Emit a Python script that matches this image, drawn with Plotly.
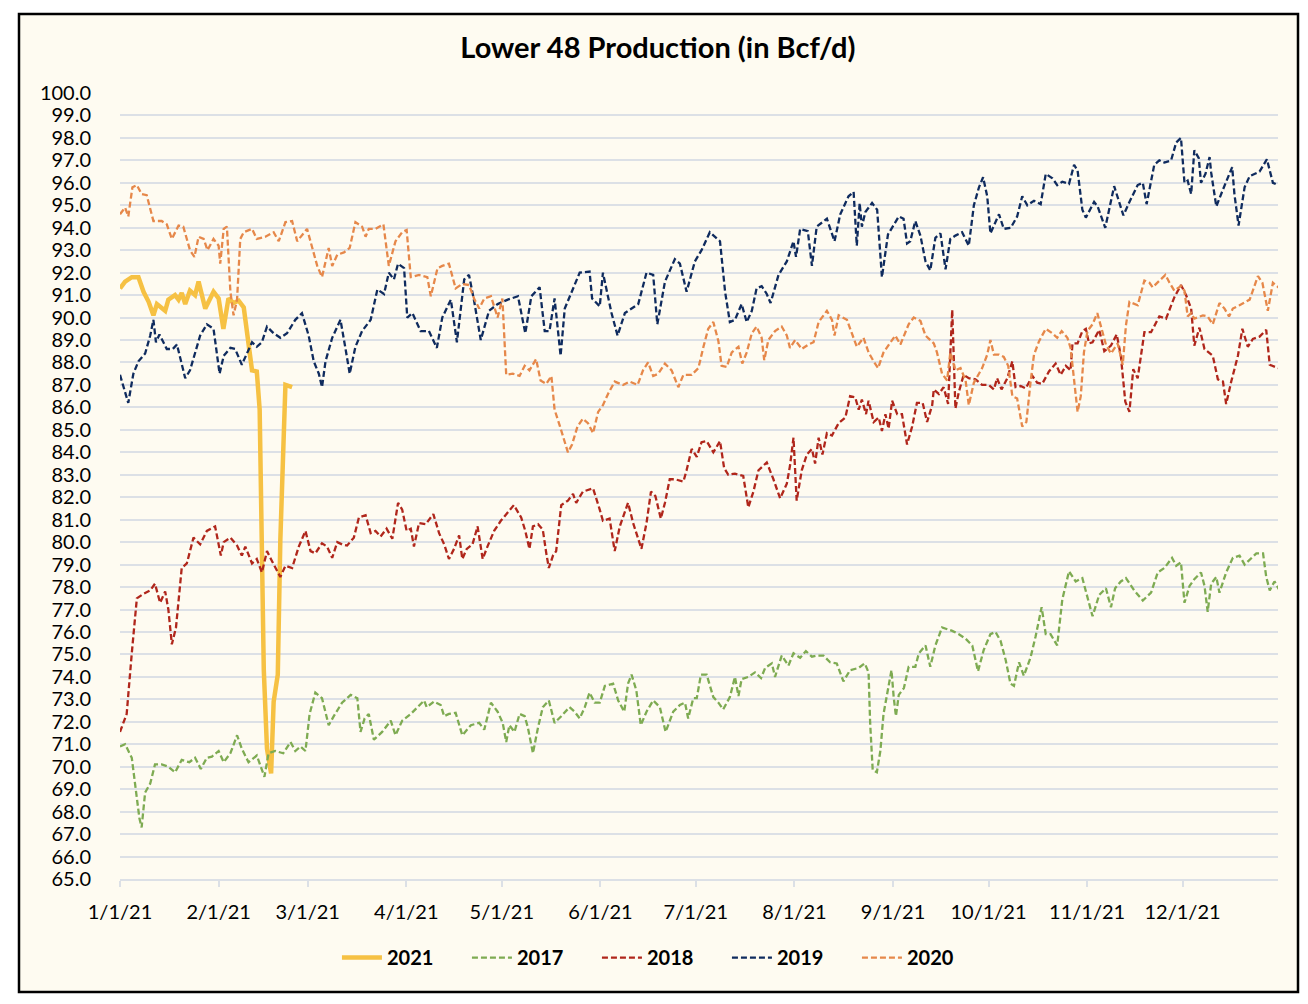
import pandas as pd
import plotly.graph_objects as go

# day offsets from 1/1/21 and production values (Bcf/d)
days_2021 = [0, 1.6, 3.7, 5.8, 7.4, 9, 10.5, 11.6, 14.2, 15.2, 17.3, 18.4, 19.4, 20.5, 22, 23.6, 24.7, 26.8, 29.4, 31,
             32.5, 34.1, 35.7, 37.3, 38.9, 40.4, 41.5, 43, 43.9, 45.2, 46.2, 47.5, 48.3, 49.6, 50.4, 51.3, 52, 54.1]
prod_2021 = [91.3, 91.6, 91.8, 91.8, 91.15, 90.7, 90.1, 90.6, 90.3, 90.8, 91.0, 90.8, 91.1, 90.6, 91.2, 91.0, 91.6, 90.4,
             91.15, 90.85, 89.5, 90.85, 90.65, 90.75, 90.45, 89.0, 87.65, 87.6, 85.9, 74.3, 70.8, 69.7, 72.9, 74.1, 80.1,
             84.0, 87.0, 86.9]

days_2017 = [0, 1.6, 3.7, 5, 6.1, 6.8, 7.9, 9.5, 11, 13.1, 15.2, 17.3, 19.4, 21.8, 23.6, 25.4, 27.3, 28.9, 31, 32.6,
             34.7, 36.8, 38.3, 40.4, 43, 45.4, 46.7, 48.8, 51.3, 53.6, 55.1, 56.7,
             58.3, 59.6, 61.4, 63.5, 65.6, 67.2, 69.8, 72.5, 74.6, 75.6, 76.9, 78.2, 79.8, 82.4, 85.1, 86.6, 88.7, 91.4,
             94, 95.6, 96.4, 98.7, 100.8, 101.9, 103.4, 105.5, 107.6, 110.3, 112.9, 114.5, 116.6, 118.7, 120.3,
             121.4, 122.4, 124, 125.6, 127.2, 128.2, 129.8, 131.4, 132.9, 134.8, 136.6, 138.7, 141.3, 142.9, 144.5,
             146.1, 147.6, 149.2, 150.8, 152.4, 155, 156.6, 158.5, 159.7, 160.8, 162.3, 163.7, 165.5, 167.6, 169.7,
             171.5, 173.9, 176, 177.6, 178.6, 180.2, 181.3, 182.6,
             184.4, 186.5, 188.1, 189.6, 191.7, 193.3, 194.4, 195.4, 197.5, 199.6, 201.5, 202.8, 204.9, 205.9, 208,
             210.1, 211.7, 213.8, 215.6, 217.5, 219, 221.1, 223.2, 225.3, 227.4, 229.5, 232.2, 234.1, 235.3, 235.8,
             236.6, 237.9, 239, 240, 241.1, 242.5, 243.2, 243.9, 244.8, 246.4,
             247.9, 250, 251.1, 253.2, 254.7, 256.3, 258.4, 261.6, 263.7, 265.8, 267.9, 269.7, 271.5, 273.6, 275.2,
             276.8, 278.4, 279.9, 281, 282.6, 284.1, 286.2, 287.8, 288.9, 289.7, 291, 292.5, 294.6, 296.2, 298.3,
             300.4, 302.5, 304.1,
             305.7, 307.8, 309.9, 311.5, 312.8, 314.6, 316.2, 318.8, 321.5, 324.1, 326.2, 328.3, 330.7, 332, 333.5,
             334.6, 336.2, 337.7, 339.8, 340.9, 341.9, 343, 344.6, 345.6, 347.7, 349.8, 351.9, 353.5, 355.1, 357.2,
             359.3, 360.3, 361.4, 362.9, 364.5]
prod_2017 = [70.9, 71.0, 70.4, 69.05, 67.7, 67.3, 68.85, 69.25, 70.1, 70.1, 70.0, 69.75, 70.3, 70.2, 70.4, 69.9, 70.4,
             70.45, 70.7, 70.2, 70.6, 71.4, 70.8, 70.2, 70.5, 69.55, 70.6, 70.7, 70.6, 71.1, 70.7, 70.9,
             70.7, 72.35, 73.3, 73.05, 71.85, 72.25, 72.85, 73.2, 73.05, 71.55, 72.15, 72.35, 71.2, 71.55, 72.05, 71.4,
             72.05, 72.35, 72.75, 72.95, 72.65, 72.9, 72.75, 72.25, 72.35, 72.4, 71.4, 71.85, 71.95, 71.65, 72.85,
             72.45, 71.95,
             71.1, 71.85, 71.55, 72.35, 72.25, 71.75, 70.6, 71.75, 72.65, 72.95, 71.95, 72.25, 72.65, 72.45, 72.15,
             72.65, 73.3, 72.85, 72.85, 73.6, 73.7, 72.95, 72.45, 73.7, 74.1, 73.4, 71.85, 72.45, 72.95, 72.65, 71.55,
             72.45, 72.75, 72.85, 72.15, 73.05, 73.05, 74.1,
             74.1, 73.1, 72.85, 72.55, 73.1, 74.0, 73.15, 73.9, 74.0, 74.2, 73.95, 74.4, 74.6, 74.0, 74.95, 74.5,
             75.05, 74.85, 75.15, 74.9, 74.95, 74.95, 74.65, 74.6, 73.8, 74.3, 74.4, 74.6, 74.2, 71.95, 69.85, 69.75,
             70.7, 72.35, 73.2, 74.3, 73.1, 72.25, 73.2, 73.5,
             74.45, 74.45, 75.05, 75.4, 74.45, 75.4, 76.2, 76.05, 75.9, 75.7, 75.4, 74.25, 75.2, 75.9, 76.0, 75.6,
             74.75, 73.7, 73.6, 74.65, 74.05, 74.85, 75.8, 76.5, 77.1, 75.9, 75.9, 75.4, 77.45, 78.7, 78.25, 78.4,
             77.55,
             76.7, 77.65, 77.95, 77.1, 77.95, 78.25, 78.4, 77.85, 77.4, 77.75, 78.65, 78.85, 79.3, 78.95, 79.1, 77.3,
             78.05, 78.35, 78.65, 78.05, 76.9, 78.15, 78.45, 77.75, 78.65, 79.3, 79.4, 79.0, 79.2, 79.5, 79.5, 78.45,
             77.85, 78.25, 77.85]

days_2018 = [0, 2.1, 3.7, 5.3, 7.4, 9.5, 11, 12.6, 14.2, 15.2, 16.3, 17.6, 19.4, 21, 23.1, 25.2, 27.3, 29.9, 31.7,
             32.6, 34.7, 36.8, 38.3, 39.4, 41.5, 43, 44.6, 46.2, 47.8, 50.4, 52, 54.1, 56.2,
             58.3, 59.9, 61.4, 63.5, 65.1, 66.7, 68.3, 69.8, 71.4, 73.5, 75.1, 77.2, 78.8, 80.3, 81.9, 83.8, 85.6,
             87.4, 88.7, 90.1, 91.4, 92.4, 94, 96.1, 98.5, 100.3, 101.9, 103.4, 105, 106.6, 107.6, 109, 110.8, 112.4,
             114, 115.5, 117.6, 119.7,
             121.9, 123.8, 126.1, 127.4, 128.7, 129.8, 131.4, 132.9, 134, 134.8, 136.1, 137.1, 138.7, 140.8, 142.4,
             143.4, 145.5, 148.7, 150.8, 151.8, 153.9, 155.5, 157.1, 159.7, 161.3, 163.9, 165.5, 166.9, 168.3, 170,
             171.3, 172.8, 174.4, 177.1, 178.1, 179.7, 181.3, 182.8,
             184.4, 186.5, 188.6, 189.9, 191.2, 193.3, 195.9, 197.5, 199.1, 200.7, 203.3, 205.4, 207.5, 209.6, 210.6,
             211.7, 212.7, 214.3, 215.9, 217.5, 218.5, 219.6, 220.8, 222.2, 223.8, 225.9, 228, 229.5, 231.1, 232.2,
             233.2, 234.5, 235.3, 236.9, 238.5, 239.5, 240.6, 241.6, 242.7, 244.3, 245.8,
             247.4, 249, 250.5, 252.3, 253.7, 255.3, 255.8, 257.4, 258.9, 260.3, 261.6, 262.6, 263.7, 265.2, 266.8,
             268.9, 271, 273.1, 274.7, 275.7, 277.1, 278.9, 280.5, 281.5, 283.1, 284.7, 286.8, 288.3, 289.9, 292,
             294.1, 295.7, 297.3, 298.8, 299.4, 301, 302.5, 303.6, 304.6,
             305.7, 307.8, 309.4, 311.5, 313.3, 314.6, 316, 317.3, 318.5, 319.9, 322, 324.1, 326.7, 328.8, 331.4,
             333.5, 335.1, 336.7, 337.7, 339.3, 340.9, 343.5, 345.1, 346.7, 347.7, 349.3, 351.4, 352.8, 354.5, 356.1,
             358.2, 360.3, 361.4, 364]
prod_2018 = [71.55, 72.35, 75.05, 77.5, 77.7, 77.85, 78.15, 77.3, 77.8, 77.0, 75.45, 76.2, 78.85, 79.05, 80.2, 79.9,
             80.5, 80.7, 79.4, 80.0, 80.2, 79.85, 79.4, 79.8, 79.05, 79.25, 78.65, 79.6, 79.15, 78.45, 78.95, 78.85,
             79.8,
             80.5, 79.6, 79.5, 79.95, 79.8, 79.3, 80.0, 79.9, 79.85, 80.2, 81.1, 81.2, 80.4, 80.5, 80.25, 80.6, 80.15,
             81.75, 81.45, 80.5, 80.6, 79.8, 80.85, 80.8, 81.25, 80.4, 79.9, 79.25, 79.7, 80.3, 79.25, 79.7, 79.9,
             80.7, 79.25, 79.8, 80.5, 80.95,
             81.35, 81.65, 81.1, 80.5, 79.7, 80.7, 80.8, 80.55, 79.5, 78.85, 79.4, 79.6, 81.65, 81.85, 82.15, 81.75,
             82.25, 82.4, 81.45, 80.95, 81.05, 79.6, 80.7, 81.75, 80.85, 79.7, 80.85, 82.25, 82.05, 81.05, 81.75,
             82.8, 82.8, 82.7, 83.2, 84.15, 83.8, 84.45,
             84.5, 84.0, 84.5, 83.3, 83.0, 83.05, 82.95, 81.55, 82.25, 83.2, 83.55, 82.8, 81.95, 82.6, 83.4, 84.65,
             81.85, 83.2, 83.9, 84.15, 83.5, 84.65, 83.9, 84.85, 84.75, 85.3, 85.55, 86.5, 86.45, 85.9, 86.35, 85.7,
             86.3, 85.35, 85.55, 84.95, 85.7, 85.05, 86.3, 85.7, 85.7,
             84.35, 85.15, 86.2, 86.2, 85.35, 86.1, 86.8, 86.6, 86.9, 86.15, 90.35, 85.95, 86.7, 87.45, 87.3, 87.25,
             87.0, 87.0, 86.8, 87.3, 86.8, 87.3, 88.05, 86.9, 86.95, 86.85, 87.4, 87.1, 87.05, 87.6, 87.95, 87.45,
             87.85, 87.65, 88.85, 88.85, 89.4, 89.5, 88.85,
             88.9, 89.45, 88.5, 88.75, 89.25, 88.3, 86.25, 85.8, 87.7, 87.3, 89.35, 89.35, 90.05, 89.95, 90.9, 91.45,
             91.0, 90.4, 88.75, 89.55, 88.6, 88.3, 87.25, 87.15, 86.15, 87.15, 88.3, 89.5, 88.7, 89.05, 89.15, 89.45,
             87.9, 87.75]

days_2019 = [0, 1.3, 2.6, 4.2, 5.8, 7.9, 9.5, 10.5, 11.3, 12.4, 14.7, 16.6, 17.9, 20.5, 22, 25.2, 27.3, 29.4, 31.3,
             32.6, 34.7, 36.2, 38.3, 41.5, 43, 44.6, 46.2, 48.3, 50.4, 52.5, 55.1, 57.2,
             59.3, 60.9, 62.5, 63.5, 64.6, 66.7, 69.3, 70.9, 72.2, 74, 76.1, 78.8, 80.9, 83, 84.5, 86.1, 87.4, 89.3,
             90.3, 91.9, 94.5, 97.1, 99.6, 101.3, 104, 105.9, 108.2, 109.7, 111.3, 113.4, 116, 118.7,
             121.9, 125.1, 127.4, 129.3, 131.9, 133.5, 135, 136.6, 138.5, 139.8, 142.4, 144.5, 147.6, 148.4, 150.8,
             151.8, 154.5, 156.4, 158.7, 162.9, 165.5, 167.6, 168.9, 171.3, 174.4, 176, 178.1, 180.7, 182.8,
             185.4, 188.6, 190.2, 191.7, 193.3, 195.4, 197, 198.6, 200.1, 201.7, 203.3, 204.5, 207, 209.6, 211.7,
             212.5, 213.8, 216.2, 217.5, 219, 222.2, 224.6, 226.4, 229, 230.6, 231.6, 232.5, 233.2, 234.3, 236.4,
             238, 239.5, 241.4, 244.8,
             246.3, 247.4, 248.4, 250, 251.6, 253.2, 254.7, 256.3, 257.9, 259.5, 261, 262.6, 264.7, 266.8, 268.4, 270,
             271.3, 272.6, 273.6, 276.3, 277.8, 280, 282, 283.6, 285.2, 287.3, 289.4, 291, 293.1, 294.6, 296.2,
             298.3, 299.9, 301, 302.5, 303.6,
             306.2, 307.3, 309.7, 312.5, 315.4, 317.3, 319.9, 321.5, 322.7, 325.1, 326.7, 328.3, 330.4, 332, 333.5,
             334.6, 335.6, 336.7, 337.7, 339.1, 339.8, 341.2, 342.5, 343, 344.6, 346.7, 349.6, 350.3, 351.6, 353.5,
             355.1, 358.2, 360.5, 362.4, 364]
prod_2019 = [87.45, 86.8, 86.2, 87.5, 88.05, 88.4, 89.2, 89.9, 88.9, 89.25, 88.6, 88.6, 88.8, 87.3, 87.65, 89.2, 89.7,
             89.5, 87.5, 88.3, 88.65, 88.6, 87.9, 88.9, 88.7, 88.9, 89.6, 89.3, 89.1, 89.3, 89.9, 90.2,
             89.2, 88.05, 87.5, 86.9, 88.05, 89.1, 89.9, 88.6, 87.5, 88.7, 89.4, 89.9, 91.25, 91.05, 92.0, 91.7, 92.4,
             92.2, 90.0, 90.2, 89.4, 89.4, 88.65, 90.0, 90.8, 88.9, 91.7, 91.9, 90.75, 89.0, 90.3, 90.6,
             90.8, 90.95, 89.3, 90.95, 91.35, 89.4, 89.4, 90.85, 88.3, 90.4, 91.25, 92.0, 92.05, 90.85, 90.5, 92.0,
             90.2, 89.2, 90.2, 90.6, 92.0, 91.9, 89.7, 91.6, 92.6, 92.4, 91.15, 92.5, 93.0,
             93.8, 93.4, 91.15, 89.8, 89.9, 90.6, 89.8, 90.3, 91.3, 91.4, 91.05, 90.65, 91.9, 92.5, 93.4, 92.7,
             93.95, 93.85, 92.3, 94.05, 94.4, 93.4, 94.6, 95.4, 95.6, 93.2, 95.1, 94.05, 94.7, 95.1, 94.8, 91.8,
             93.7, 94.5,
             94.4, 93.3, 93.4, 94.3, 93.65, 92.5, 92.1, 93.55, 93.75, 92.15, 93.5, 93.65, 93.8, 93.2, 95.0, 95.8,
             96.25, 95.4, 93.75, 94.6, 93.95, 94.0, 94.5, 95.4, 95.0, 95.2, 95.05, 96.4, 96.2, 95.9, 96.05, 95.95,
             96.8, 96.55, 94.8, 94.45,
             95.15, 94.95, 94.0, 95.85, 94.55, 95.15, 95.9, 96.0, 95.05, 96.8, 97.0, 96.9, 97.0, 97.8, 98.0, 96.0,
             96.1, 95.5, 97.45, 97.1, 96.0, 96.4, 97.15, 96.45, 94.95, 95.7, 96.7, 95.5, 94.1, 95.8, 96.3, 96.5,
             97.05, 96.0, 95.9]

days_2020 = [0, 1.6, 2.6, 3.9, 5.3, 6.8, 8.4, 10.5, 13.1, 14.7, 16.3, 18.4, 19.9, 22, 23.4, 24.7, 26.3, 27.5, 29.4,
             31, 31.5, 32.6, 33.6, 34.7, 35.7, 36.8, 37.8, 38.9, 41.5, 43, 45.7, 48.3, 49.9, 52, 54.1, 55.7,
             58.8, 60.4, 62, 63.5, 65.6, 66.7, 68.3, 70.4, 72.2, 74, 76.1, 77.2, 78.2, 80.3, 82.8, 84.5, 86.6, 88.7,
             90.1, 91.4, 94, 96.6, 97.7, 99.8, 101.3, 103.4, 105.5, 107.6, 109.7, 111.3, 112.9, 114.5, 116.6, 118.7,
             120.2,
             121.4, 123.5, 125.6, 127.2, 128.7, 130.8, 132.2, 134, 135.6, 136.6, 138.2, 139.5, 140.8, 142.1, 143.8,
             145.5, 147.1, 148.7, 150.3, 151.8, 153.4, 155.5, 158.1, 160.2, 162.7, 164.4, 166, 167.6, 169.2, 171.3,
             173.4, 175.5, 177.1, 179.7, 181.8,
             183.4, 184.9, 186.5, 188.1, 189.1, 190.7, 192.3, 194.4, 195.6, 197, 198.6, 200.1, 201.7, 202.5, 203.8,
             205.9, 208, 209.6, 210.6, 212.2, 214.3, 216.4, 218, 219.6, 222.2, 223.8, 224.6, 225.9, 228.5, 230.1,
             231.6, 233.7, 235.3, 236.9, 238.3, 240, 242.1, 243.7, 245.3,
             247.9, 249.5, 251.6, 253.2, 255.8, 256.8, 258.4, 260, 261, 262.6, 264.2, 265.8, 266.8, 268.4, 271,
             272.6, 273.6, 274.7, 276.3, 277.8, 279.2, 280.5, 282, 283.6, 284.9, 286.2, 287.3, 288.9, 291, 293.1,
             294.6, 296, 297.8, 298.8, 299.9, 301, 302, 303, 304.1, 305.7,
             307.2, 308.3, 309.9, 311.5, 313.6, 315.2, 316.2, 317.3, 318.8, 319.9, 322, 323.6, 324.6, 326.7, 328.6,
             329.9, 331.4, 333.5, 334.6, 335.6, 336.7, 337.7, 340.4, 341.9, 343.5, 345.6, 347.2, 348.6, 349.8, 351.9,
             355.1, 357.7, 359.1, 360.8, 362.4, 364.5]
prod_2020 = [94.6, 94.9, 94.5, 95.8, 95.9, 95.5, 95.45, 94.3, 94.3, 94.15, 93.5, 94.1, 94.05, 93.0, 92.7, 93.6, 93.5,
             93.0, 93.5, 93.2, 92.4, 93.95, 94.05, 91.15, 90.1, 90.8, 93.5, 93.8, 93.95, 93.5, 93.6, 93.8, 93.4,
             94.25, 94.3, 93.4,
             93.95, 93.1, 92.3, 91.8, 93.1, 92.3, 92.8, 92.9, 93.1, 94.25, 94.05, 93.6, 93.95, 93.95, 94.15, 92.3,
             93.4, 93.8, 93.9, 91.8, 91.9, 91.8, 90.95, 92.2, 92.3, 92.4, 91.3, 91.5, 91.45, 90.85, 90.4, 90.85,
             90.95, 90.0, 90.85,
             87.45, 87.5, 87.4, 87.85, 87.65, 88.15, 87.2, 87.05, 87.4, 85.9, 85.2, 84.55, 84.0, 84.35, 85.15, 85.5,
             85.3, 84.85, 85.8, 86.1, 86.6, 87.15, 87.0, 87.15, 87.0, 87.65, 88.0, 87.4, 87.5, 87.95, 87.65, 86.9,
             87.45, 87.45, 87.75,
             88.7, 89.5, 89.8, 88.95, 87.85, 87.8, 88.45, 88.7, 87.95, 88.45, 89.3, 89.6, 89.1, 88.1, 89.0, 89.4,
             89.6, 89.2, 88.65, 89.0, 88.6, 88.8, 88.9, 89.8, 90.3, 89.9, 89.2, 90.1, 89.9, 89.3, 88.7, 89.1, 88.45,
             88.05, 87.75, 88.45, 88.9, 89.2, 88.8,
             89.7, 90.0, 89.85, 89.2, 88.85, 88.45, 87.5, 87.2, 88.45, 87.65, 87.75, 87.2, 86.1, 87.1, 87.75, 88.35,
             89.0, 88.35, 88.35, 88.25, 87.85, 86.5, 86.4, 85.15, 85.35, 87.1, 88.35, 88.95, 89.5, 89.3, 89.1, 89.4,
             89.1, 88.65, 87.3, 85.8, 86.5, 88.45, 89.4, 89.7,
             90.2, 89.65, 88.8, 88.4, 88.85, 87.9, 89.65, 90.7, 90.6, 90.55, 91.65, 91.55, 91.35, 91.65, 91.9, 91.55,
             91.2, 91.4, 91.2, 90.05, 90.2, 89.95, 90.1, 90.05, 89.7, 90.65, 90.4, 90.05, 90.4, 90.55, 90.8, 91.85,
             91.55, 90.3, 91.55, 91.3]

base = pd.Timestamp("2021-01-01")


def to_dates(days):
    return base + pd.to_timedelta(days, unit="D")


series = [
    ("2021", days_2021, prod_2021, "#F6C143", 4.5, "solid"),
    ("2017", days_2017, prod_2017, "#7EAB52", 2.3, "6px,3px"),
    ("2018", days_2018, prod_2018, "#B0261B", 2.3, "6px,3px"),
    ("2019", days_2019, prod_2019, "#0F2B5E", 2.3, "6px,3px"),
    ("2020", days_2020, prod_2020, "#E6884A", 2.3, "6px,3px"),
]

fig = go.Figure()
for name, d, v, col, w, dash in series:
    fig.add_trace(go.Scatter(x=to_dates(d), y=v, name=name, mode="lines",
                             line=dict(color=col, width=w, dash=dash)))

font = "Lato, 'Open Sans', sans-serif"
cream = "#FEFBF1"
grid = "#DCE0E6"

fig.update_layout(
    width=1308, height=1004,
    margin=dict(l=120, r=30, t=93, b=125),
    paper_bgcolor="white",
    plot_bgcolor="rgba(0,0,0,0)",
    font=dict(family=font, size=20, color="black"),
    title=dict(text="<b>Lower 48 Production (in Bcf/d)</b>", x=0.503, xref="container", xanchor="center",
               y=1 - 48 / 1004, yref="container", yanchor="middle", font=dict(size=29, color="black")),
    showlegend=True,
    legend=dict(orientation="h", x=0.468, xanchor="center", y=-0.1, yanchor="middle",
                font=dict(size=20, color="black", family=font, weight="bold"),
                bgcolor="rgba(0,0,0,0)", itemwidth=40, tracegroupgap=0,
                entrywidth=75, entrywidthmode="pixels"),
    shapes=[dict(type="rect", xref="paper", yref="paper",
                 x0=(19 - 120) / 1158, x1=(1298 - 120) / 1158,
                 y0=(879 - 992) / 786, y1=(879 - 14) / 786,
                 fillcolor=cream, line=dict(color="black", width=2.5), layer="below")],
)

fig.update_yaxes(range=[65, 100], dtick=1, tick0=65, tickformat=".1f", showgrid=True, gridcolor=grid,
                 gridwidth=1.5, zeroline=False, showline=False, ticks="", ticklabelstandoff=28)
fig.update_xaxes(range=["2021-01-01", "2021-12-31"], dtick="M1", tick0="2021-01-01", tickformat="%-m/%-d/%y",
                 showgrid=False, showline=True, linecolor=grid, linewidth=1.5, ticks="outside", ticklen=6,
                 tickcolor=grid, tickwidth=1.5, ticklabelstandoff=8, zeroline=False)

fig.write_html("out.html", config={"displayModeBar": False},
               post_script="document.body.style.margin='0';")
